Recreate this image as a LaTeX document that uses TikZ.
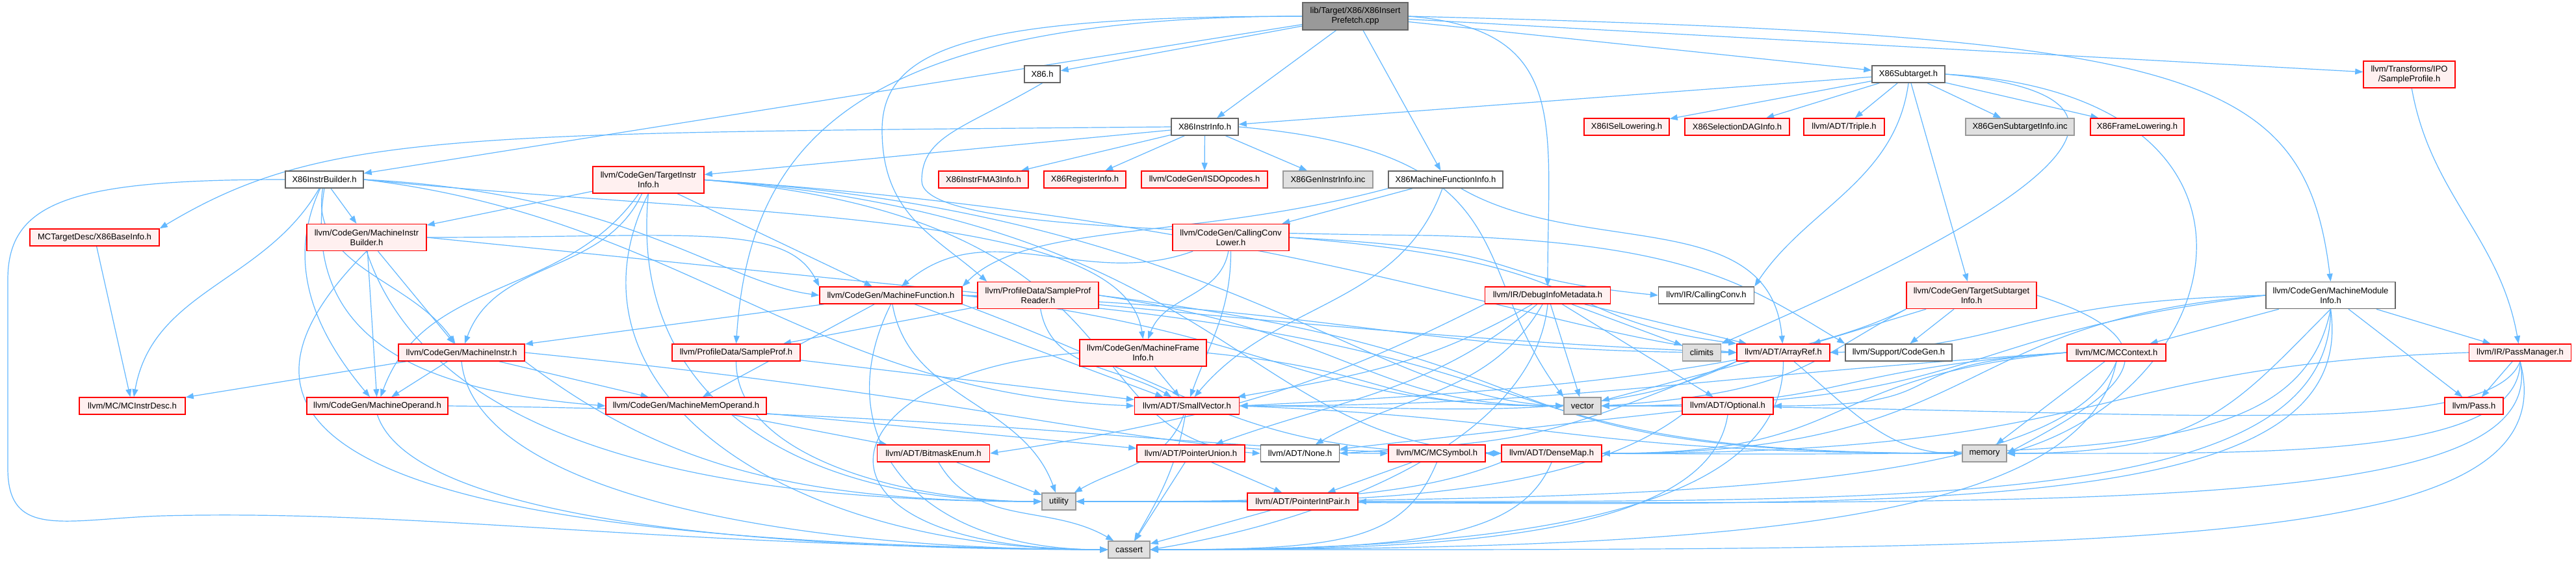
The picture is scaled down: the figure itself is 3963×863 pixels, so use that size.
\documentclass[tikz,border=0pt]{standalone}
\usepackage{fontspec}
\setmainfont{Liberation Sans}
\usetikzlibrary{arrows.meta}
\definecolor{edgec}{HTML}{63B8FF}
\definecolor{redfill}{HTML}{FFF0F0}
\definecolor{redline}{HTML}{FF0000}
\definecolor{grayfill}{HTML}{E0E0E0}
\definecolor{grayline}{HTML}{999999}
\definecolor{whiteline}{HTML}{666666}
\definecolor{topfill}{HTML}{999999}
\pgfdeclarelayer{bg}
\pgfsetlayers{bg,main}
\begin{document}
\begin{tikzpicture}[x=1pt,y=-1pt,
  nd/.style={rectangle, inner sep=0pt, align=center, font=\fontsize{13}{15}\selectfont, line width=1.5pt, minimum height=26pt},
  rednode/.style={nd, draw=redline, fill=redfill},
  whitenode/.style={nd, draw=whiteline, fill=white},
  graynode/.style={nd, draw=grayline, fill=grayfill},
  topnode/.style={nd, draw=whiteline, fill=topfill},
  e/.style={draw=edgec, line width=1.2pt, -{Triangle[length=12pt,width=9pt]}}]
\useasboundingbox (0,0) rectangle (3963,863);

\node[topnode, minimum width=162pt, minimum height=42pt] (T) at (2085,25) {lib/Target/X86/X86Insert\\Prefetch.cpp};
\node[whitenode, minimum width=55pt] (x86h) at (1603.5,114) {X86.h};
\node[whitenode, minimum width=112pt] (sub) at (2936,114) {X86Subtarget.h};
\node[rednode, minimum width=141pt, minimum height=41pt] (spf) at (3706.5,114.5) {llvm/Transforms/IPO\\/SampleProfile.h};
\node[whitenode, minimum width=103pt] (ii) at (1853.5,195) {X86InstrInfo.h};
\node[rednode, minimum width=131pt] (isel) at (2502.5,195) {X86ISelLowering.h};
\node[rednode, minimum width=161pt] (sdag) at (2672.5,195) {X86SelectionDAGInfo.h};
\node[rednode, minimum width=124pt] (triple) at (2837,195) {llvm/ADT/Triple.h};
\node[graynode, minimum width=167pt] (gsub) at (3107.5,195) {X86GenSubtargetInfo.inc};
\node[rednode, minimum width=144pt] (frame) at (3288,195) {X86FrameLowering.h};
\node[whitenode, minimum width=120pt] (ib) at (499,276) {X86InstrBuilder.h};
\node[rednode, minimum width=171pt, minimum height=41pt] (tii) at (997.5,276.5) {llvm/CodeGen/TargetInstr\\Info.h};
\node[rednode, minimum width=138pt] (fma) at (1513,276) {X86InstrFMA3Info.h};
\node[rednode, minimum width=126pt] (reg) at (1669,276) {X86RegisterInfo.h};
\node[rednode, minimum width=194pt] (isd) at (1853,276) {llvm/CodeGen/ISDOpcodes.h};
\node[graynode, minimum width=138pt] (gii) at (2043,276) {X86GenInstrInfo.inc};
\node[whitenode, minimum width=176pt] (mfi) at (2224,276) {X86MachineFunctionInfo.h};
\node[rednode, minimum width=199pt] (basei) at (145.5,365) {MCTargetDesc/X86BaseInfo.h};
\node[rednode, minimum width=184pt, minimum height=41pt] (mib) at (564,365) {llvm/CodeGen/MachineInstr\\Builder.h};
\node[rednode, minimum width=179pt, minimum height=41pt] (ccl) at (1893.5,365) {llvm/CodeGen/CallingConv\\Lower.h};
\node[rednode, minimum width=219pt] (mf) at (1370.5,454) {llvm/CodeGen/MachineFunction.h};
\node[rednode, minimum width=186pt, minimum height=41pt] (spr) at (1597,454) {llvm/ProfileData/SampleProf\\Reader.h};
\node[rednode, minimum width=193pt] (dim) at (2381,454) {llvm/IR/DebugInfoMetadata.h};
\node[whitenode, minimum width=147pt] (cc) at (2625,454) {llvm/IR/CallingConv.h};
\node[rednode, minimum width=200pt, minimum height=41pt] (tsi) at (3033,454) {llvm/CodeGen/TargetSubtarget\\Info.h};
\node[whitenode, minimum width=199pt, minimum height=41pt] (mmi) at (3585.5,454) {llvm/CodeGen/MachineModule\\Info.h};
\node[rednode, minimum width=194pt] (mi) at (710,542) {llvm/CodeGen/MachineInstr.h};
\node[rednode, minimum width=197pt] (sp) at (1132.5,542) {llvm/ProfileData/SampleProf.h};
\node[rednode, minimum width=195pt, minimum height=41pt] (mfr) at (1758.5,542.5) {llvm/CodeGen/MachineFrame\\Info.h};
\node[graynode, minimum width=59pt] (climits) at (2618,542) {climits};
\node[rednode, minimum width=143pt] (ar) at (2743.5,542) {llvm/ADT/ArrayRef.h};
\node[whitenode, minimum width=164pt] (cg) at (2921,542) {llvm/Support/CodeGen.h};
\node[rednode, minimum width=152pt] (mcc) at (3256,542) {llvm/MC/MCContext.h};
\node[rednode, minimum width=157pt] (pm) at (3877,542) {llvm/IR/PassManager.h};
\node[rednode, minimum width=163pt] (mid) at (203.5,624) {llvm/MC/MCInstrDesc.h};
\node[rednode, minimum width=217pt] (mo) at (580.5,624) {llvm/CodeGen/MachineOperand.h};
\node[rednode, minimum width=247pt] (mmo) at (1055.5,624) {llvm/CodeGen/MachineMemOperand.h};
\node[rednode, minimum width=161pt] (sv) at (1826,624) {llvm/ADT/SmallVector.h};
\node[graynode, minimum width=57pt] (vec) at (2434.5,624) {vector};
\node[rednode, minimum width=140pt] (opt) at (2658,624) {llvm/ADT/Optional.h};
\node[rednode, minimum width=90pt] (passh) at (3806,624) {llvm/Pass.h};
\node[rednode, minimum width=173pt] (bme) at (1436,697) {llvm/ADT/BitmaskEnum.h};
\node[rednode, minimum width=166pt] (pu) at (1832,697) {llvm/ADT/PointerUnion.h};
\node[whitenode, minimum width=121pt] (nonen) at (2000,697) {llvm/ADT/None.h};
\node[rednode, minimum width=149pt] (sym) at (2210.5,697) {llvm/MC/MCSymbol.h};
\node[rednode, minimum width=154pt] (dm) at (2387,697) {llvm/ADT/DenseMap.h};
\node[graynode, minimum width=68pt] (mem) at (3053,697) {memory};
\node[graynode, minimum width=52pt] (util) at (1629,771) {utility};
\node[rednode, minimum width=170pt] (pip) at (2004,771) {llvm/ADT/PointerIntPair.h};
\node[graynode, minimum width=64pt] (cassert) at (1737,845) {cassert};

\coordinate (wa) at (12,430);
\coordinate (wb) at (12,720);
\coordinate (wc) at (250,793);
\coordinate (wy) at (1418,278);
\coordinate (wx) at (2200,362);
\coordinate (wsp) at (1357,200);

\begin{pgfonlayer}{bg}
\fill[white] (0,0) rectangle (3963,863);
% top node
\draw[e] (T) -- (ib);
\draw[e] (T) -- (x86h);
\draw[e] (T) -- (ii);
\draw[e] (T) -- (mfi);
\draw[e] (T) -- (sub);
\draw[e] (T) -- (spf);
\draw[e] (T.east) .. controls +(1200,30) and +(-40,-330) .. (mmi.north);
\draw[e] (T.east) .. controls +(250,20) and +(0,-250) .. (dim.north);
\draw[e] (T.west) .. controls +(-700,0) and +(20,-300) .. (sp.north);
\draw[e] (T.west) .. controls +(-500,0) and +(0,-130) .. (wsp) .. controls +(0,130) and +(-80,-70) .. ([xshift=15pt]spr.north west);
% X86.h
\draw[e] (x86h.south) .. controls +(-120,70) and +(0,-70) .. (wy) .. controls +(0,60) and +(-500,-5) .. (wx) .. controls +(400,10) and +(-150,-90) .. (cg.north west);
% X86Subtarget
\draw[e] (sub) -- (ii);
\draw[e] (sub) -- (isel);
\draw[e] (sub) -- (sdag);
\draw[e] (sub) -- (triple);
\draw[e] (sub) -- (gsub);
\draw[e] (sub) -- (frame);
\draw[e] (sub) -- (tsi);
\draw[e] (sub.south) .. controls +(-20,150) and +(80,-120) .. (cc.north east);
\draw[e] (sub.east) .. controls +(450,40) and +(350,-150) .. (climits.north east);
\draw[e] (sub.east) .. controls +(550,30) and +(350,-100) .. (mem.east);
% X86InstrInfo
\draw[e] (ii.west) .. controls +(-1100,10) and +(250,-150) .. (basei.north east);
\draw[e] (ii) -- (tii);
\draw[e] (ii) -- (fma);
\draw[e] (ii) -- (reg);
\draw[e] (ii) -- (isd);
\draw[e] (ii) -- (gii);
\draw[e] (ii.east) .. controls +(450,40) and +(-150,-200) .. (vec.north west);
% X86InstrBuilder
\draw[e] (ib.west) .. controls +(-330,0) and +(0,-120) .. (wa) -- (wb) .. controls +(0,110) and +(-150,5) .. (wc) .. controls +(400,-10) and +(-700,-5) .. (cassert.west);
\draw[e] (ib) to[out=-120,in=80] (mid);
\draw[e] (ib) to[out=-115,in=130] (mo);
\draw[e] (ib) to[out=-100,in=125] (mi);
\draw[e] (ib.south) .. controls +(-40,250) and +(-250,-20) .. (mmo.west);
\draw[e] (ib) -- (mib);
\draw[e] (ib.east) .. controls +(400,20) and +(-150,-20) .. (mf.west);
\draw[e] (ib.east) .. controls +(500,60) and +(-500,-20) .. (sv.west);
\draw[e] (ib.east) .. controls +(600,60) and +(-30,-200) .. (mfr.north);
% TargetInstrInfo
\draw[e] (tii) -- (mib);
\draw[e] (tii) -- (mf);
\draw[e] (tii) to[out=-115,in=70] (mi);
\draw[e] (tii) to[out=-125,in=70] (mo);
\draw[e] (tii.south) .. controls +(-150,300) and +(-500,0) .. (cassert.west);
\draw[e] (tii.south) .. controls +(-30,300) and +(-400,0) .. (util.west);
\draw[e] (tii.east) .. controls +(900,60) and +(-300,-30) .. (ar.west);
\draw[e] (tii.east) .. controls +(800,60) and +(-400,-20) .. (dm.west);
\draw[e] (tii.east) .. controls +(700,60) and +(-300,-20) .. (nonen.west);
\draw[e] (tii.east) .. controls +(800,50) and +(-300,-10) .. (vec.west);
% MachineInstrBuilder
\draw[e] (mib.east) .. controls +(400,0) and +(-50,-100) .. (mf.north west);
\draw[e] (mib) -- (mi);
\draw[e] (mib) -- (mo);
\draw[e] (mib.south) .. controls +(-300,300) and +(-1100,-10) .. (cassert.west);
\draw[e] (mib.south) .. controls +(100,300) and +(-500,0) .. (util.west);
\draw[e] (mib.east) .. controls +(1000,100) and +(-500,-20) .. (ar.west);
% MachineInstr
\draw[e] (mi) -- (mid);
\draw[e] (mi) -- (mo);
\draw[e] (mi) -- (mmo);
\draw[e] (mi.south) .. controls +(20,200) and +(-500,0) .. (cassert.west);
\draw[e] (mi.south east) .. controls +(200,150) and +(-400,0) .. (util.west);
\draw[e] (mi.east) .. controls +(800,80) and +(-400,0) .. (sym.west);
% MachineOperand
\draw[e] (mo.east) .. controls +(900,10) and +(-500,0) .. (dm.west);
\draw[e] (mo.south) .. controls +(50,150) and +(-600,0) .. (cassert.west);
% MachineMemOperand
\draw[e] (mmo) -- (bme);
\draw[e] (mmo) -- (pu);
\draw[e] (basei) -- (mid);
% MachineFunction
\draw[e] (mf) -- (mi);
\draw[e] (mf) -- (mmo);
\draw[e] (mf) -- (sv);
\draw[e] (mf.south) .. controls +(-100,200) and +(-300,0) .. (cassert.west);
\draw[e] (mf) to[out=-80,in=110] (util);
\draw[e] (mf.east) .. controls +(600,20) and +(-500,0) .. (ar.west);
\draw[e] (mf.south east) .. controls +(400,150) and +(-400,0) .. (dm.west);
\draw[e] (mf.east) .. controls +(500,60) and +(-400,0) .. (vec.west);
\draw[e] (mf.east) .. controls +(1000,80) and +(-800,0) .. (mem.west);
% SampleProfReader
\draw[e] (spr) -- (sp);
\draw[e] (spr) to[out=-80,in=150] (sv);
\draw[e] (spr.east) .. controls +(800,100) and +(-800,0) .. (mem.west);
\draw[e] (spr.east) .. controls +(400,60) and +(-300,0) .. (vec.west);
% SampleProf
\draw[e] (sp) -- (sv);
\draw[e] (sp.south) .. controls +(0,150) and +(-200,0) .. (util.west);
% MachineFrameInfo
\draw[e] (mfr) -- (sv);
\draw[e] (mfr.west) .. controls +(-400,30) and +(-500,0) .. (cassert.west);
\draw[e] (mfr.east) .. controls +(300,30) and +(-300,0) .. (vec.west);
% CallingConvLower
\draw[e] (ccl) to[out=200,in=40] (mf);
\draw[e] (ccl) to[out=-100,in=70] (mfr);
\draw[e] (ccl) to[out=-90,in=70] (sv);
\draw[e] (ccl.east) .. controls +(400,20) and +(-300,-30) .. (cc.west);
\draw[e] (ccl.east) .. controls +(500,40) and +(-300,-40) .. (ar.north west);
% X86MachineFunctionInfo
\draw[e] (mfi) -- (ccl);
\draw[e] (mfi.south west) .. controls +(-300,80) and +(100,-100) .. (mf.north east);
\draw[e] (mfi) to[out=-110,in=50] (sv);
\draw[e] (mfi) to[out=-30,in=95] (ar);
% DebugInfoMetadata
\draw[e] (dim) -- (ar);
\draw[e] (dim) -- (climits);
\draw[e] (dim) -- (vec);
\draw[e] (dim) -- (opt);
\draw[e] (dim.south west) .. controls +(-200,100) and +(400,-60) .. (bme.east);
\draw[e] (dim) to[out=-140,in=20] (pu);
\draw[e] (dim) to[out=-120,in=30] (nonen);
\draw[e] (dim) to[out=-150,in=10] (sv);
\draw[e] (dim.south) .. controls +(-20,200) and +(300,-50) .. (cassert.east);
% ArrayRef
\draw[e] (ar) -- (vec);
\draw[e] (ar.south west) .. controls +(-200,100) and +(300,0) .. (sv.east);
\draw[e] (ar.south west) .. controls +(-300,120) and +(300,-20) .. (nonen.east);
\draw[e] (ar.south) .. controls +(0,250) and +(500,0) .. (cassert.east);
\draw[e] (ar) to[out=-40,in=180] (mem);
% Optional
\draw[e] (opt) -- (nonen);
\draw[e] (opt.south) .. controls +(-30,200) and +(400,0) .. (cassert.east);
\draw[e] (opt.south west) .. controls +(-200,150) and +(300,0) .. (util.east);
% MCSymbol
\draw[e] (sym) -- (pip);
\draw[e] (sym.south) .. controls +(-50,120) and +(300,0) .. (cassert.east);
% DenseMap
\draw[e] (dm.south west) .. controls +(-150,60) and +(300,0) .. (util.east);
\draw[e] (dm.south) .. controls +(-50,120) and +(400,0) .. (cassert.east);
% SmallVector
\draw[e] (sv) to[out=-100,in=60] (cassert);
\draw[e] (sv) to[out=-110,in=30] (util);
\draw[e] (sv.east) .. controls +(500,20) and +(-600,0) .. (mem.west);
% BitmaskEnum, PointerUnion, PointerIntPair
\draw[e] (bme) -- (util);
\draw[e] (bme) to[out=-60,in=150] (cassert);
\draw[e] (pu) -- (cassert);
\draw[e] (pu) -- (pip);
\draw[e] (pip) -- (cassert);
% TargetSubtargetInfo
\draw[e] (tsi) -- (ar);
\draw[e] (tsi) -- (cg);
\draw[e] (tsi.south west) .. controls +(-200,100) and +(400,-20) .. (sv.east);
\draw[e] (tsi.south west) .. controls +(-150,80) and +(300,-20) .. (vec.east);
\draw[e] (tsi.east) .. controls +(250,80) and +(150,-80) .. (mem.east);
% MCContext
\draw[e] (mcc) -- (mem);
\draw[e] (mcc.west) .. controls +(-400,40) and +(400,0) .. (dm.east);
\draw[e] (mcc.west) .. controls +(-300,20) and +(300,0) .. (opt.east);
\draw[e] (mcc.west) .. controls +(-600,40) and +(500,0) .. (sv.east);
\draw[e] (mcc.west) .. controls +(-400,30) and +(400,0) .. (vec.east);
\draw[e] (mcc.south) .. controls +(-50,250) and +(900,0) .. (cassert.east);
\draw[e] (mcc.south) .. controls +(-80,200) and +(900,0) .. (util.east);
% MachineModuleInfo
\draw[e] (mmi) -- (mcc);
\draw[e] (mmi) -- (pm);
\draw[e] (mmi) -- (passh);
\draw[e] (mmi.west) .. controls +(-400,10) and +(300,-10) .. (ar.east);
\draw[e] (mmi.west) .. controls +(-500,40) and +(600,0) .. (dm.east);
\draw[e] (mmi.south) .. controls +(0,300) and +(900,0) .. (pip.east);
\draw[e] (mmi.south) .. controls +(-50,250) and +(900,0) .. (sym.east);
\draw[e] (mmi.south) .. controls +(-150,150) and +(300,0) .. (mem.east);
\draw[e] (mmi.south) .. controls +(50,350) and +(1200,0) .. (util.east);
\draw[e] (mmi.west) .. controls +(-500,60) and +(600,0) .. (vec.east);
% PassManager
\draw[e] (pm) -- (passh);
\draw[e] (pm.west) .. controls +(-600,20) and +(800,0) .. (dm.east);
\draw[e] (pm.south) .. controls +(0,150) and +(400,0) .. (mem.east);
\draw[e] (pm.south) .. controls +(50,250) and +(1500,0) .. (util.east);
\draw[e] (pm.south) .. controls +(80,300) and +(1500,0) .. (cassert.east);
\draw[e] (pm.south) .. controls +(-50,130) and +(800,0) .. (vec.east);
% SampleProfile
\draw[e] (spf) to[out=-80,in=100] (pm);
\end{pgfonlayer}
\end{tikzpicture}
\end{document}
